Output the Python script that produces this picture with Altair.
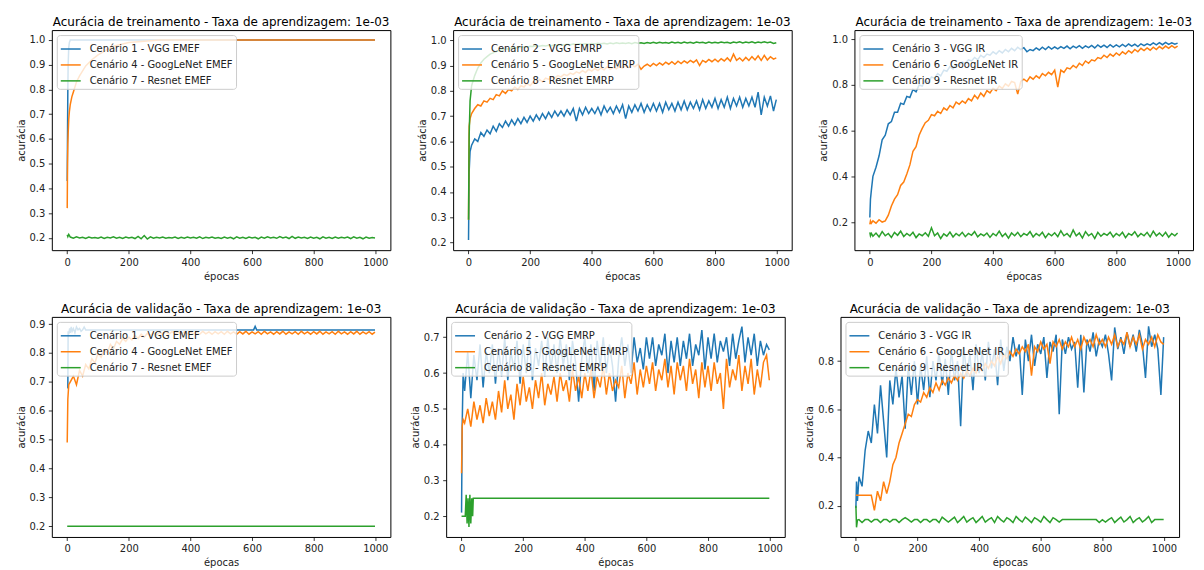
import altair as alt
import pandas as pd

# ---------------- epochs ----------------
EP_EARLY = [0, 2, 5]
EP_MAIN = list(range(10, 1000, 10)) + [999]
EP_GRID = EP_EARLY + EP_MAIN

# ---------------- Treino EMEF ----------------
ep_tr_emef_vgg = [0, 1, 2, 3, 5, 7, 10, 999]
tr_emef_vgg = [0.43, 0.62, 0.80, 0.90, 0.97, 0.99, 1.0, 1.0]

ep_tr_emef_goog = [0, 1, 2, 3, 5, 7, 10, 15, 20, 30, 40, 60, 80, 100, 150, 200, 300, 999]
tr_emef_goog = [0.32, 0.50, 0.58, 0.62, 0.68, 0.71, 0.74, 0.77, 0.79, 0.83, 0.855, 0.895,
                0.92, 0.94, 0.975, 0.99, 1.0, 1.0]

tr_emef_res = [0.212, 0.205, 0.214,
    0.203, 0.198, 0.204, 0.199, 0.202, 0.197, 0.203, 0.199, 0.201, 0.198,
    0.203, 0.197, 0.202, 0.199, 0.204, 0.198, 0.202, 0.197, 0.203, 0.199,
    0.202, 0.197, 0.206, 0.196, 0.209, 0.195, 0.204, 0.198, 0.202, 0.199,
    0.203, 0.198, 0.201, 0.199, 0.203, 0.197, 0.202, 0.198, 0.203, 0.199,
    0.202, 0.198, 0.204, 0.197, 0.202, 0.199, 0.203, 0.198, 0.201, 0.197,
    0.203, 0.198, 0.202, 0.196, 0.204, 0.198, 0.202, 0.197, 0.203, 0.199,
    0.202, 0.196, 0.203, 0.198, 0.204, 0.199, 0.202, 0.198, 0.205, 0.199,
    0.203, 0.197, 0.206, 0.198, 0.203, 0.199, 0.202, 0.197, 0.203, 0.198,
    0.202, 0.196, 0.204, 0.198, 0.202, 0.197, 0.203, 0.198, 0.202, 0.199,
    0.203, 0.197, 0.204, 0.198, 0.202, 0.196, 0.203, 0.198, 0.201, 0.199]

# ---------------- Treino EMRP ----------------
tr_emrp_vgg = [0.21, 0.48, 0.56,
    0.585, 0.61, 0.60, 0.635, 0.62, 0.645, 0.63, 0.66, 0.64, 0.67,
    0.655, 0.68, 0.66, 0.685, 0.665, 0.69, 0.67, 0.695, 0.675, 0.70,
    0.68, 0.705, 0.685, 0.71, 0.69, 0.715, 0.695, 0.72, 0.70, 0.72,
    0.70, 0.725, 0.705, 0.73, 0.68, 0.73, 0.705, 0.735, 0.71, 0.73,
    0.71, 0.735, 0.705, 0.74, 0.715, 0.735, 0.71, 0.74, 0.715, 0.745,
    0.69, 0.74, 0.715, 0.745, 0.72, 0.75, 0.715, 0.745, 0.72, 0.75,
    0.72, 0.75, 0.715, 0.755, 0.725, 0.75, 0.72, 0.755, 0.725, 0.76,
    0.725, 0.755, 0.73, 0.76, 0.725, 0.765, 0.73, 0.76, 0.735, 0.77,
    0.73, 0.765, 0.735, 0.775, 0.73, 0.77, 0.74, 0.775, 0.735, 0.77,
    0.74, 0.775, 0.735, 0.795, 0.705, 0.775, 0.74, 0.78, 0.72, 0.765]

tr_emrp_goog = [0.29, 0.66, 0.69,
    0.71, 0.73, 0.745, 0.74, 0.76, 0.755, 0.77, 0.765, 0.785, 0.78,
    0.80, 0.79, 0.805, 0.80, 0.815, 0.805, 0.82, 0.815, 0.83, 0.82,
    0.835, 0.83, 0.845, 0.835, 0.85, 0.845, 0.855, 0.85, 0.86, 0.855,
    0.865, 0.86, 0.87, 0.865, 0.875, 0.87, 0.88, 0.872, 0.885, 0.878,
    0.888, 0.88, 0.89, 0.883, 0.895, 0.885, 0.893, 0.887, 0.898, 0.89,
    0.90, 0.892, 0.903, 0.895, 0.905, 0.885, 0.898, 0.905, 0.897, 0.908,
    0.90, 0.91, 0.902, 0.913, 0.905, 0.915, 0.905, 0.917, 0.908, 0.918,
    0.91, 0.92, 0.912, 0.922, 0.90, 0.92, 0.913, 0.924, 0.915, 0.925,
    0.915, 0.927, 0.918, 0.93, 0.917, 0.945, 0.92, 0.93, 0.918, 0.932,
    0.92, 0.935, 0.922, 0.938, 0.92, 0.94, 0.922, 0.935, 0.925, 0.93]

tr_emrp_res = [0.29, 0.62, 0.76,
    0.82, 0.86, 0.89, 0.91, 0.925, 0.935, 0.945, 0.95, 0.955, 0.96,
    0.962, 0.966, 0.965, 0.97, 0.968, 0.972, 0.971, 0.974, 0.972, 0.976,
    0.975, 0.978, 0.976, 0.979, 0.977, 0.98, 0.978, 0.982, 0.979, 0.983,
    0.981, 0.984, 0.982, 0.985, 0.983, 0.986, 0.984, 0.986, 0.984, 0.987,
    0.985, 0.988, 0.986, 0.988, 0.985, 0.989, 0.986, 0.99, 0.987, 0.989,
    0.987, 0.99, 0.986, 0.991, 0.988, 0.99, 0.987, 0.991, 0.988, 0.992,
    0.988, 0.992, 0.989, 0.991, 0.988, 0.993, 0.989, 0.992, 0.988, 0.993,
    0.989, 0.992, 0.988, 0.993, 0.99, 0.992, 0.988, 0.993, 0.989, 0.992,
    0.989, 0.993, 0.99, 0.992, 0.988, 0.993, 0.99, 0.994, 0.989, 0.993,
    0.99, 0.994, 0.989, 0.993, 0.99, 0.994, 0.99, 0.993, 0.987, 0.99]

# ---------------- Treino IR ----------------
tr_ir_vgg = [0.22, 0.30, 0.34,
    0.40, 0.44, 0.49, 0.56, 0.58, 0.63, 0.64, 0.68, 0.68, 0.72,
    0.715, 0.75, 0.745, 0.78, 0.77, 0.80, 0.795, 0.82, 0.81, 0.835,
    0.83, 0.85, 0.84, 0.865, 0.86, 0.88, 0.87, 0.89, 0.885, 0.90,
    0.895, 0.91, 0.905, 0.92, 0.91, 0.93, 0.92, 0.935, 0.93, 0.945,
    0.935, 0.95, 0.94, 0.955, 0.945, 0.96, 0.95, 0.965, 0.955, 0.963,
    0.945, 0.955, 0.95, 0.962, 0.953, 0.965, 0.955, 0.967, 0.957, 0.966,
    0.958, 0.968, 0.96, 0.97, 0.958, 0.97, 0.962, 0.972, 0.96, 0.971,
    0.963, 0.973, 0.962, 0.975, 0.965, 0.974, 0.964, 0.976, 0.966, 0.975,
    0.967, 0.977, 0.968, 0.979, 0.97, 0.978, 0.968, 0.98, 0.972, 0.98,
    0.974, 0.984, 0.975, 0.985, 0.976, 0.986, 0.977, 0.984, 0.978, 0.983]

tr_ir_goog = [0.19, 0.205, 0.195,
    0.205, 0.195, 0.21, 0.20, 0.205, 0.23, 0.27, 0.30, 0.32, 0.36,
    0.375, 0.41, 0.45, 0.51, 0.53, 0.58, 0.61, 0.635, 0.645, 0.67,
    0.665, 0.685, 0.675, 0.70, 0.69, 0.71, 0.70, 0.725, 0.715, 0.73,
    0.72, 0.74, 0.73, 0.755, 0.74, 0.765, 0.75, 0.775, 0.765, 0.785,
    0.775, 0.795, 0.785, 0.805, 0.795, 0.815, 0.81, 0.76, 0.815, 0.825,
    0.815, 0.835, 0.825, 0.84, 0.83, 0.85, 0.84, 0.855, 0.845, 0.865,
    0.79, 0.865, 0.855, 0.875, 0.87, 0.885, 0.875, 0.895, 0.885, 0.905,
    0.895, 0.91, 0.905, 0.92, 0.915, 0.93, 0.92, 0.935, 0.925, 0.94,
    0.93, 0.945, 0.935, 0.95, 0.94, 0.955, 0.945, 0.96, 0.95, 0.962,
    0.952, 0.965, 0.955, 0.968, 0.958, 0.97, 0.96, 0.972, 0.962, 0.97]

tr_ir_res = [0.155, 0.14, 0.15,
    0.138, 0.152, 0.135, 0.158, 0.14, 0.15, 0.133, 0.155, 0.142, 0.16,
    0.137, 0.15, 0.14, 0.155, 0.132, 0.148, 0.14, 0.153, 0.138, 0.175,
    0.14, 0.152, 0.128, 0.148, 0.138, 0.156, 0.135, 0.15, 0.14, 0.155,
    0.136, 0.15, 0.142, 0.158, 0.135, 0.148, 0.14, 0.152, 0.133, 0.15,
    0.14, 0.16, 0.137, 0.15, 0.13, 0.152, 0.14, 0.155, 0.136, 0.15,
    0.142, 0.158, 0.135, 0.15, 0.14, 0.155, 0.132, 0.15, 0.14, 0.153,
    0.136, 0.162, 0.14, 0.15, 0.135, 0.165, 0.14, 0.152, 0.13, 0.158,
    0.14, 0.15, 0.128, 0.155, 0.138, 0.15, 0.142, 0.156, 0.135, 0.15,
    0.14, 0.155, 0.132, 0.15, 0.142, 0.158, 0.136, 0.15, 0.14, 0.155,
    0.135, 0.16, 0.14, 0.152, 0.138, 0.155, 0.134, 0.15, 0.14, 0.152]

# ---------------- Validacao EMEF ----------------
ep_va_emef_vgg = [0, 2, 3, 5, 8, 10, 13, 16, 20, 25, 30, 35, 40, 45, 50, 55, 60, 605, 610, 615, 999]
va_emef_vgg = [0.68, 0.68, 0.875, 0.865, 0.885, 0.87, 0.89, 0.875, 0.885, 0.87, 0.89,
               0.88, 0.885, 0.875, 0.88, 0.89, 0.88, 0.88, 0.892, 0.88, 0.88]

va_emef_goog = [0.49, 0.64, 0.69,
    0.70, 0.72, 0.69, 0.74, 0.72, 0.76, 0.745, 0.78, 0.765, 0.80,
    0.785, 0.81, 0.80, 0.83, 0.815, 0.84, 0.83, 0.85, 0.84, 0.855,
    0.845, 0.86, 0.85, 0.865, 0.855, 0.868, 0.86, 0.87, 0.862, 0.872,
    0.864, 0.873, 0.865, 0.874, 0.866, 0.873, 0.865, 0.874, 0.866, 0.873,
    0.866, 0.874, 0.865, 0.875, 0.866, 0.873, 0.865, 0.874, 0.866, 0.874,
    0.865, 0.875, 0.866, 0.873, 0.865, 0.874, 0.866, 0.875, 0.865, 0.873,
    0.866, 0.874, 0.865, 0.875, 0.866, 0.873, 0.865, 0.874, 0.866, 0.875,
    0.865, 0.873, 0.866, 0.874, 0.865, 0.875, 0.866, 0.873, 0.865, 0.874,
    0.866, 0.875, 0.865, 0.873, 0.866, 0.874, 0.865, 0.875, 0.866, 0.873,
    0.865, 0.874, 0.866, 0.875, 0.865, 0.873, 0.866, 0.874, 0.865, 0.872]

ep_va_emef_res = [0, 999]
va_emef_res = [0.2, 0.2]

# ---------------- Validacao EMRP ----------------
va_emrp_vgg = [0.21, 0.45, 0.60,
    0.55, 0.66, 0.53, 0.65, 0.58, 0.68, 0.56, 0.66, 0.60, 0.68,
    0.57, 0.67, 0.59, 0.70, 0.58, 0.66, 0.61, 0.69, 0.57, 0.68,
    0.60, 0.70, 0.58, 0.67, 0.62, 0.69, 0.59, 0.70, 0.61, 0.68,
    0.60, 0.70, 0.62, 0.68, 0.58, 0.69, 0.63, 0.52, 0.64, 0.70,
    0.60, 0.68, 0.55, 0.69, 0.62, 0.70, 0.60, 0.68, 0.62, 0.52,
    0.64, 0.70, 0.62, 0.68, 0.60, 0.70, 0.63, 0.67, 0.61, 0.70,
    0.64, 0.70, 0.62, 0.68, 0.65, 0.71, 0.60, 0.69, 0.63, 0.70,
    0.62, 0.69, 0.64, 0.71, 0.62, 0.68, 0.65, 0.72, 0.61, 0.70,
    0.64, 0.71, 0.63, 0.69, 0.66, 0.70, 0.62, 0.71, 0.64, 0.69,
    0.73, 0.63, 0.70, 0.65, 0.71, 0.62, 0.69, 0.65, 0.68, 0.665]

va_emrp_goog = [0.32, 0.45, 0.47,
    0.46, 0.50, 0.45, 0.52, 0.47, 0.51, 0.46, 0.53, 0.48, 0.52,
    0.47, 0.55, 0.49, 0.58, 0.50, 0.54, 0.47, 0.57, 0.51, 0.59,
    0.52, 0.56, 0.50, 0.58, 0.53, 0.60, 0.51, 0.57, 0.54, 0.59,
    0.52, 0.60, 0.55, 0.58, 0.52, 0.61, 0.55, 0.59, 0.53, 0.60,
    0.55, 0.61, 0.53, 0.59, 0.56, 0.62, 0.54, 0.60, 0.55, 0.58,
    0.56, 0.62, 0.53, 0.60, 0.57, 0.63, 0.54, 0.61, 0.56, 0.62,
    0.57, 0.63, 0.55, 0.61, 0.58, 0.64, 0.56, 0.62, 0.54, 0.63,
    0.58, 0.62, 0.55, 0.64, 0.57, 0.61, 0.53, 0.63, 0.56, 0.62,
    0.55, 0.63, 0.57, 0.60, 0.50, 0.64, 0.56, 0.61, 0.58, 0.65,
    0.55, 0.62, 0.57, 0.64, 0.54, 0.61, 0.56, 0.63, 0.65, 0.58]

ep_va_emrp_res = [0, 12, 15, 18, 21, 24, 27, 30, 33, 36, 38, 999]
va_emrp_res = [0.20, 0.20, 0.26, 0.18, 0.25, 0.17, 0.26, 0.18, 0.25, 0.20, 0.25, 0.25]

# ---------------- Validacao IR ----------------
va_ir_vgg = [0.19, 0.30, 0.22,
    0.32, 0.28, 0.43, 0.51, 0.46, 0.62, 0.50, 0.70, 0.55, 0.40,
    0.72, 0.62, 0.77, 0.65, 0.74, 0.52, 0.78, 0.66, 0.80, 0.62,
    0.78, 0.68, 0.82, 0.65, 0.80, 0.72, 0.84, 0.70, 0.81, 0.66,
    0.85, 0.72, 0.80, 0.53, 0.86, 0.74, 0.83, 0.68, 0.87, 0.75,
    0.84, 0.72, 0.88, 0.77, 0.85, 0.70, 0.89, 0.76, 0.86, 0.80,
    0.90, 0.82, 0.87, 0.66, 0.89, 0.80, 0.91, 0.78, 0.87, 0.83,
    0.90, 0.73, 0.88, 0.84, 0.91, 0.58, 0.89, 0.83, 0.90, 0.85,
    0.88, 0.69, 0.91, 0.67, 0.89, 0.84, 0.92, 0.82, 0.89, 0.86,
    0.91, 0.83, 0.72, 0.94, 0.85, 0.90, 0.83, 0.92, 0.86, 0.91,
    0.84, 0.93, 0.87, 0.73, 0.945, 0.86, 0.91, 0.85, 0.66, 0.90]

va_ir_goog = [0.243, 0.243, 0.243,
    0.243, 0.243, 0.243, 0.243, 0.243, 0.18, 0.26, 0.22, 0.30, 0.25,
    0.30, 0.37, 0.40, 0.46, 0.50, 0.54, 0.58, 0.57, 0.62, 0.64,
    0.63, 0.67, 0.65, 0.69, 0.67, 0.71, 0.68, 0.72, 0.70, 0.73,
    0.71, 0.74, 0.72, 0.75, 0.73, 0.76, 0.74, 0.77, 0.75, 0.78,
    0.76, 0.79, 0.77, 0.80, 0.78, 0.82, 0.79, 0.83, 0.81, 0.84,
    0.82, 0.85, 0.83, 0.86, 0.84, 0.87, 0.74, 0.86, 0.84, 0.88,
    0.85, 0.87, 0.79, 0.88, 0.86, 0.89, 0.85, 0.88, 0.86, 0.90,
    0.86, 0.89, 0.85, 0.90, 0.87, 0.89, 0.86, 0.91, 0.87, 0.89,
    0.86, 0.90, 0.87, 0.91, 0.86, 0.89, 0.87, 0.92, 0.86, 0.90,
    0.87, 0.91, 0.85, 0.89, 0.87, 0.90, 0.86, 0.91, 0.88, 0.87]

va_ir_res = [0.20, 0.11, 0.14,
    0.142, 0.130, 0.142, 0.142, 0.132, 0.142, 0.142, 0.130, 0.142, 0.142,
    0.132, 0.142, 0.142, 0.130, 0.142, 0.150, 0.142, 0.132, 0.142, 0.142,
    0.130, 0.142, 0.142, 0.132, 0.142, 0.142, 0.130, 0.152, 0.142, 0.132,
    0.142, 0.152, 0.130, 0.142, 0.155, 0.132, 0.142, 0.150, 0.130, 0.142,
    0.155, 0.132, 0.142, 0.150, 0.130, 0.155, 0.142, 0.132, 0.150, 0.142,
    0.130, 0.155, 0.142, 0.132, 0.152, 0.142, 0.130, 0.150, 0.142, 0.132,
    0.155, 0.142, 0.130, 0.150, 0.142, 0.132, 0.142, 0.142, 0.142, 0.142,
    0.142, 0.142, 0.142, 0.142, 0.142, 0.142, 0.142, 0.142, 0.130, 0.142,
    0.132, 0.142, 0.150, 0.130, 0.142, 0.152, 0.132, 0.142, 0.155, 0.130,
    0.142, 0.150, 0.132, 0.142, 0.155, 0.130, 0.142, 0.142, 0.142, 0.142]

# ---------------- text ----------------
T_TREINO = "Acurácia de treinamento - Taxa de aprendizagem: 1e-03"
T_VALID = "Acurácia de validação - Taxa de aprendizagem: 1e-03"
NAMES_EMEF = ["Cenário 1 - VGG EMEF", "Cenário 4 - GoogLeNet EMEF", "Cenário 7 - Resnet EMEF"]
NAMES_EMRP = ["Cenário 2 - VGG EMRP", "Cenário 5 - GoogLeNet EMRP", "Cenário 8 - Resnet EMRP"]
NAMES_IR = ["Cenário 3 - VGG IR", "Cenário 6 - GoogLeNet IR", "Cenário 9 - Resnet IR"]
X_TICKS = [0, 200, 400, 600, 800, 1000]
COLORS = ["#1f77b4", "#ff7f0e", "#2ca02c"]
FONT = "DejaVu Sans"


def panel(title, names, series, ydom, yticks):
    rows = []
    for name, (ep, acc) in zip(names, series):
        assert len(ep) == len(acc), name
        for e, a in zip(ep, acc):
            rows.append({"epoca": e, "acuracia": a, "serie": name})
    df = pd.DataFrame(rows)
    return alt.Chart(
        df,
        title=alt.TitleParams(title, fontSize=12, font=FONT, fontWeight="normal",
                              color="#000", offset=-11, baseline="bottom"),
    ).mark_line(strokeWidth=1.5).encode(
        x=alt.X("epoca:Q",
                scale=alt.Scale(domain=[-50, 1049], nice=False, zero=False),
                axis=alt.Axis(values=X_TICKS, title="épocas", format="d", titlePadding=4)),
        y=alt.Y("acuracia:Q",
                scale=alt.Scale(domain=ydom, nice=False, zero=False),
                axis=alt.Axis(values=yticks, title="acurácia", format=".1f", titlePadding=3)),
        color=alt.Color("serie:N",
                        scale=alt.Scale(domain=names, range=COLORS),
                        legend=alt.Legend(title=None, orient="top-left", offset=5,
                                          fillColor="rgba(255,255,255,0.8)",
                                          strokeColor="#cccccc", cornerRadius=3,
                                          padding=3, symbolType="stroke",
                                          symbolSize=400, symbolStrokeWidth=1.5,
                                          labelFontSize=10, labelFont=FONT,
                                          labelColor="#222", labelOffset=8,
                                          rowPadding=-10, zindex=1)),
    ).properties(width=340, height=221)


p1 = panel(T_TREINO, NAMES_EMEF,
           [(ep_tr_emef_vgg, tr_emef_vgg), (ep_tr_emef_goog, tr_emef_goog), (EP_GRID, tr_emef_res)],
           [0.15, 1.04], [0.2, 0.3, 0.4, 0.5, 0.6, 0.7, 0.8, 0.9, 1.0])
p2 = panel(T_TREINO, NAMES_EMRP,
           [(EP_GRID, tr_emrp_vgg), (EP_GRID, tr_emrp_goog), (EP_GRID, tr_emrp_res)],
           [0.17, 1.04], [0.2, 0.3, 0.4, 0.5, 0.6, 0.7, 0.8, 0.9, 1.0])
p3 = panel(T_TREINO, NAMES_IR,
           [(EP_GRID, tr_ir_vgg), (EP_GRID, tr_ir_goog), (EP_GRID, tr_ir_res)],
           [0.077, 1.04], [0.2, 0.4, 0.6, 0.8, 1.0])
p4 = panel(T_VALID, NAMES_EMEF,
           [(ep_va_emef_vgg, va_emef_vgg), (EP_GRID, va_emef_goog), (ep_va_emef_res, va_emef_res)],
           [0.163, 0.925], [0.2, 0.3, 0.4, 0.5, 0.6, 0.7, 0.8, 0.9])
p5 = panel(T_VALID, NAMES_EMRP,
           [(EP_GRID, va_emrp_vgg), (EP_GRID, va_emrp_goog), (ep_va_emrp_res, va_emrp_res)],
           [0.142, 0.757], [0.2, 0.3, 0.4, 0.5, 0.6, 0.7])
p6 = panel(T_VALID, NAMES_IR,
           [(EP_GRID, va_ir_vgg), (EP_GRID, va_ir_goog), (EP_GRID, va_ir_res)],
           [0.07, 0.984], [0.2, 0.4, 0.6, 0.8])

row1 = alt.hconcat(p1, p2, p3, spacing=25).resolve_scale(color="independent")
row2 = alt.hconcat(p4, p5, p6, spacing=18).resolve_scale(color="independent")

chart = alt.vconcat(row1, row2, spacing=20).resolve_scale(color="independent").properties(
    padding={"left": 7, "top": 6, "right": 2, "bottom": 0}
).configure(background="white").configure_view(
    stroke="#000", strokeWidth=1
).configure_axis(
    labelFont=FONT, labelFontSize=10, labelColor="#222",
    titleFont=FONT, titleFontSize=10, titleFontWeight="normal", titleColor="#222",
    tickSize=3.5, tickColor="#000", tickWidth=0.8, labelPadding=3.5,
    domain=False, grid=False,
)

chart.save("out.html", embed_options={"renderer": "svg", "actions": False})
